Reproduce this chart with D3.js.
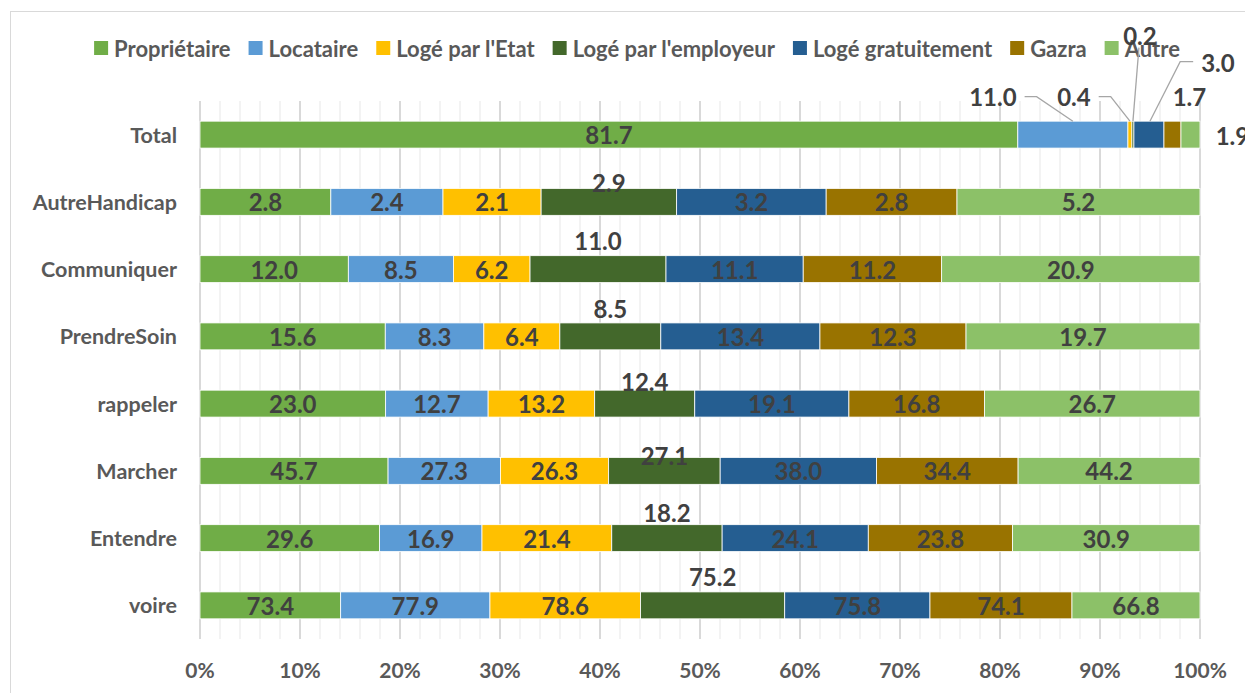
<!DOCTYPE html>
<html>
<head>
<meta charset="utf-8">
<script src="https://cdn.jsdelivr.net/npm/d3@7"></script>
<style>
  body { margin: 0; background: #fff; }
  svg text { font-family: Lato, "Open Sans", sans-serif; font-weight: bold; }
</style>
</head>
<body>
<svg id="chart" width="1245" height="693"></svg>
<script>
// data
const categories = ["Total", "AutreHandicap", "Communiquer", "PrendreSoin", "rappeler", "Marcher", "Entendre", "voire"];
const seriesNames = ["Propriétaire", "Locataire", "Logé par l'Etat", "Logé par l'employeur", "Logé gratuitement", "Gazra", "Autre"];
const proprietaire = [81.7, 2.8, 12.0, 15.6, 23.0, 45.7, 29.6, 73.4];
const locataire    = [11.0, 2.4, 8.5, 8.3, 12.7, 27.3, 16.9, 77.9];
const logeEtat     = [0.4, 2.1, 6.2, 6.4, 13.2, 26.3, 21.4, 78.6];
const logeEmployeur = [0.2, 2.9, 11.0, 8.5, 12.4, 27.1, 18.2, 75.2];
const logeGratuit  = [3.0, 3.2, 11.1, 13.4, 19.1, 38.0, 24.1, 75.8];
const gazra        = [1.7, 2.8, 11.2, 12.3, 16.8, 34.4, 23.8, 74.1];
const autre        = [1.9, 5.2, 20.9, 19.7, 26.7, 44.2, 30.9, 66.8];
const tickValues = [0, 10, 20, 30, 40, 50, 60, 70, 80, 90, 100];

const colors = ["#70ad47", "#5b9bd5", "#ffc000", "#43682b", "#255e91", "#997300", "#8cc168"];

// label nudges (layout only): employeur labels sit above the bar
const employeurDy = [0, -19, -29, -28, -22, -15, -26, -29];
// callouts on the Total row: offsets from the segment centre + leader type
const totalCallouts = [
  null,
  { dx: -80, dy: -38, line: "left" },
  { dx: -56, dy: -38, line: "left" },
  { dx: 7, dy: -99, line: "down" },
  { dx: 69, dy: -72, line: "right" },
  { dx: 17, dy: -38, line: null },
  { dx: 42, dy: 1, line: null }
];

const allSeries = [proprietaire, locataire, logeEtat, logeEmployeur, logeGratuit, gazra, autre];

const svg = d3.select("#chart");

// frame
svg.append("rect")
  .attr("x", 10.5).attr("y", 11.5)
  .attr("width", 1300).attr("height", 800)
  .attr("fill", "none").attr("stroke", "#d9d9d9");

const x = d3.scaleLinear().domain([0, 100]).range([200, 1200]);
const y = d3.scaleBand().domain(categories).range([101, 639]).paddingInner(0.6).paddingOuter(0.3);

// gridlines
svg.append("g").selectAll("line")
  .data(d3.range(0, 101, 2).filter(v => v % 10 !== 0))
  .join("line")
  .attr("x1", d => x(d)).attr("x2", d => x(d))
  .attr("y1", 101).attr("y2", 639)
  .attr("stroke", "#efefef").attr("stroke-width", 1.5);
svg.append("g").selectAll("line")
  .data(tickValues)
  .join("line")
  .attr("x1", d => x(d)).attr("x2", d => x(d))
  .attr("y1", 101).attr("y2", 639)
  .attr("stroke", "#d9d9d9").attr("stroke-width", 2);

// stacked 100% data
const rows = categories.map((c, i) => {
  const row = { cat: c };
  seriesNames.forEach((s, k) => row[s] = allSeries[k][i]);
  return row;
});
const stack = d3.stack().keys(seriesNames).offset(d3.stackOffsetExpand);
const stacked = stack(rows);

const bh = y.bandwidth();

svg.append("g").selectAll("g")
  .data(stacked)
  .join("g")
  .attr("fill", (d, k) => colors[k])
  .selectAll("rect")
  .data(d => d)
  .join("rect")
  .attr("x", d => x(d[0] * 100))
  .attr("width", d => x(d[1] * 100) - x(d[0] * 100))
  .attr("y", d => y(d.data.cat))
  .attr("height", bh)
  .attr("stroke", "#fff").attr("stroke-width", 0.8);

// data labels
const leaders = svg.append("g");
const labels = svg.append("g");
stacked.forEach((layer, k) => {
  layer.forEach((d, i) => {
    const cx = x((d[0] + d[1]) / 2 * 100);
    const cy = y(d.data.cat) + bh / 2;
    const val = allSeries[k][i].toFixed(1);
    let lx = cx, ly = cy;
    const c = i === 0 ? totalCallouts[k] : null;
    if (c) { lx = cx + c.dx; ly = cy + c.dy; }
    else if (k === 3) ly = cy + employeurDy[i];
    const t = labels.append("text")
      .attr("x", lx).attr("y", ly)
      .attr("text-anchor", "middle").attr("dominant-baseline", "central")
      .attr("font-size", 24).attr("fill", "#404040")
      .text(val);
    if (c && c.line) {
      const hw = t.node().getComputedTextLength() / 2;
      const top = y(d.data.cat);
      let pts;
      if (c.line === "left") pts = [[lx + hw + 8, ly], [lx + hw + 20, ly], [cx, top]];
      if (c.line === "down") pts = [[lx - 1, ly + 12], [cx, top]];
      if (c.line === "right") pts = [[lx - hw - 8, ly - 1], [lx - hw - 21, ly - 1], [cx + 1, top]];
      leaders.append("path")
        .attr("d", d3.line()(pts))
        .attr("fill", "none").attr("stroke", "#a6a6a6").attr("stroke-width", 1.3);
    }
  });
});

// category axis
svg.append("g").selectAll("text")
  .data(categories)
  .join("text")
  .attr("x", 177).attr("y", d => y(d) + bh / 2)
  .attr("text-anchor", "end").attr("dominant-baseline", "central")
  .attr("font-size", 21.5).attr("fill", "#595959")
  .text(d => d);

// value axis
svg.append("g").selectAll("text")
  .data(tickValues)
  .join("text")
  .attr("x", d => x(d)).attr("y", 669)
  .attr("text-anchor", "middle").attr("dominant-baseline", "central")
  .attr("font-size", 21).attr("fill", "#595959")
  .text(d => d + "%");

// legend
const legend = svg.append("g");
let pos = 0;
seriesNames.forEach((s, k) => {
  const g = legend.append("g");
  g.append("rect").attr("x", 0).attr("y", -7).attr("width", 14).attr("height", 14).attr("fill", colors[k]);
  const t = g.append("text").attr("x", 20).attr("y", 0)
    .attr("dominant-baseline", "central")
    .attr("font-size", 22).attr("fill", "#595959").text(s);
  const w = 20 + t.node().getComputedTextLength();
  g.attr("transform", `translate(${pos},0)`);
  pos += w + 18;
});
const legendW = pos - 18;
legend.attr("transform", `translate(${637 - legendW / 2},48)`);
legend.lower();
</script>
</body>
</html>
